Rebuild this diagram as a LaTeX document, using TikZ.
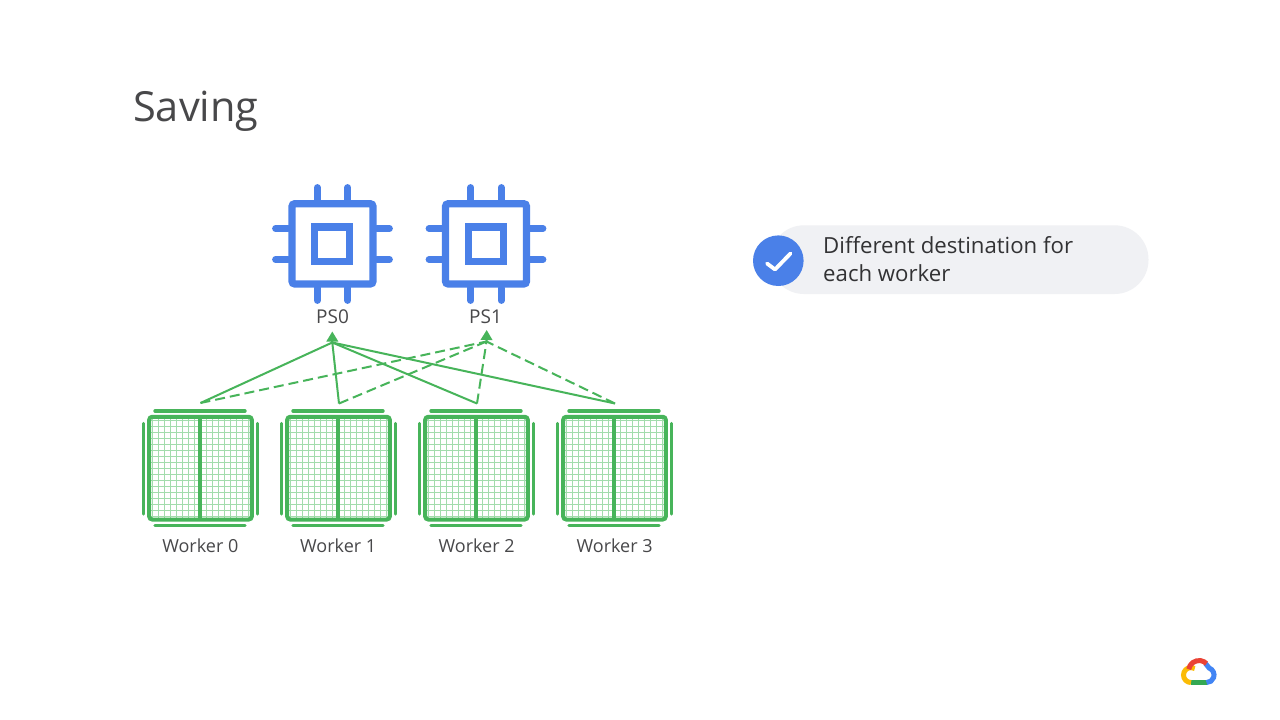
\documentclass[tikz,border=0pt]{standalone}
\usepackage{fontspec}
\setmainfont{Open Sans}
\usetikzlibrary{arrows.meta}
\definecolor{chipblue}{HTML}{4A80E8}
\definecolor{wgreen}{HTML}{47B45A}
\definecolor{gridgreen}{HTML}{A2DCAC}
\definecolor{pillgrey}{HTML}{F0F1F4}
\definecolor{txt}{HTML}{48484A}
\tikzset{
  x=1pt,y=-1pt,
  chipline/.style={draw=chipblue,line width=7.4pt},
  chipbody/.style={draw=chipblue,line width=7.4pt,rounded corners=3pt},
  chippin/.style={draw=chipblue,line width=6.8pt,line cap=round},
  gridline/.style={draw=gridgreen,line width=1pt},
  wframe/.style={draw=wgreen,line width=4pt,rounded corners=3pt},
  wbar/.style={draw=wgreen,line width=3.4pt,line cap=round},
  wlabel/.style={text=txt,font=\fontsize{18}{22}\selectfont,anchor=base,inner sep=0pt},
  pslabel/.style={text=txt,font=\fontsize{19}{22}\selectfont,anchor=base,inner sep=0pt},
  solidlink/.style={draw=wgreen,line width=2pt},
  dashlink/.style={draw=wgreen,line width=2pt,dash pattern=on 10pt off 5pt},
  tiplink/.style={draw=wgreen,line width=2pt,-{Triangle[length=10pt,width=11.5pt]}},
  logo/.style={line width=5pt},
}
\newcommand{\chipicon}{%
  \foreach \p in {317.3,347.7}{
    \draw[chippin] (\p,187.5) -- (\p,200);
    \draw[chippin] (\p,288) -- (\p,300.5);
  }
  \foreach \p in {228.5,259.5}{
    \draw[chippin] (275.5,\p) -- (288,\p);
    \draw[chippin] (377,\p) -- (389.5,\p);
  }
  \draw[chipbody] (292,203.7) rectangle (373,284);
  \draw[chipline] (314.7,226.9) rectangle (349.7,261.5);
}
\newcommand{\workericon}{%
  \foreach \i in {0,...,16}{
    \draw[gridline] ({152.5+6*\i},418) -- ({152.5+6*\i},518);
    \draw[gridline] (150,{420.5+6*\i}) -- (251,{420.5+6*\i});
  }
  \draw[wframe] (149.2,416.8) rectangle (251.8,519.5);
  \draw[draw=wgreen,line width=3.8pt] (200.3,417) -- (200.3,519);
  \draw[wbar] (155,411) -- (245,411);
  \draw[wbar] (155,525.3) -- (245,525.3);
  \draw[wbar] (143.3,423.5) -- (143.3,514);
  \draw[wbar] (257.7,423.5) -- (257.7,514);
}
\begin{document}
\begin{tikzpicture}
\useasboundingbox[fill=white] (0,0) rectangle (1280,720);
\node[text=txt,font=\fontsize{41.5}{46}\selectfont,anchor=base west,inner sep=0pt] (title) at (133,121.7) {Saving};
% PS chips
\chipicon
\begin{scope}[shift={(153.5,0)}]\chipicon\end{scope}
\node[pslabel] (ps0) at (332.5,323.8) {PS0};
\node[pslabel] (ps1) at (485.5,323.8) {PS1};
% Workers
\workericon
\begin{scope}[shift={(138,0)}]\workericon\end{scope}
\begin{scope}[shift={(276,0)}]\workericon\end{scope}
\begin{scope}[shift={(414,0)}]\workericon\end{scope}
\node[wlabel] (w0label) at (200.3,552.7) {Worker 0};
\node[wlabel] (w1label) at (338.2,552.7) {Worker 1};
\node[wlabel] (w2label) at (476.6,552.7) {Worker 2};
\node[wlabel] (w3label) at (614.6,552.7) {Worker 3};
% Connectors
\coordinate (a0) at (332.3,342.5);
\coordinate (a1) at (486.5,341.5);
\coordinate (t0) at (332.3,331.5);
\coordinate (t1) at (486.7,330);
\coordinate (w0) at (200.5,403);
\coordinate (w1) at (339,403.5);
\coordinate (w2) at (477,403.5);
\coordinate (w3) at (615,403.5);
\foreach \w in {w0,w1,w2,w3}{
  \draw[dashlink] (\w) -- (a1);
  \draw[solidlink] (\w) -- (a0);
}
\draw[tiplink] (a0) -- (t0);
\draw[tiplink] (a1) -- (t1);
% Callout
\fill[pillgrey,rounded corners=34pt] (770,225.3) rectangle (1148.5,294);
\fill[chipblue] (778.3,260.7) circle[radius=25.3];
\draw[white,line width=3.8pt,line cap=round,line join=round] (767,263.5) -- (775,269.5) -- (790.5,253.5);
\node[text=txt!70!black,font=\fontsize{22.2}{28}\selectfont,anchor=base west,inner sep=0pt,align=left] (l1) at (823,253) {Different destination for};
\node[text=txt!70!black,font=\fontsize{22.2}{28}\selectfont,anchor=base west,inner sep=0pt,align=left] (l2) at (823,281) {each worker};
% Cloud logo
\draw[logo,draw={rgb,255:red,52;green,168;blue,83}] (1191,682.5) -- (1207,682.5);
\draw[logo,draw={rgb,255:red,251;green,188;blue,5}] (1191,682.5) arc[start angle=90,end angle=300,radius=7.5];
\draw[logo,draw={rgb,255:red,66;green,133;blue,244}] (1205.5,663.5) -- (1209.1,668) arc[start angle=-70,end angle=90,radius=7.5];
\draw[logo,draw={rgb,255:red,234;green,67;blue,53}] (1188.7,669.2) arc[start angle=-170,end angle=-45,radius=10.5];
\end{tikzpicture}
\end{document}
